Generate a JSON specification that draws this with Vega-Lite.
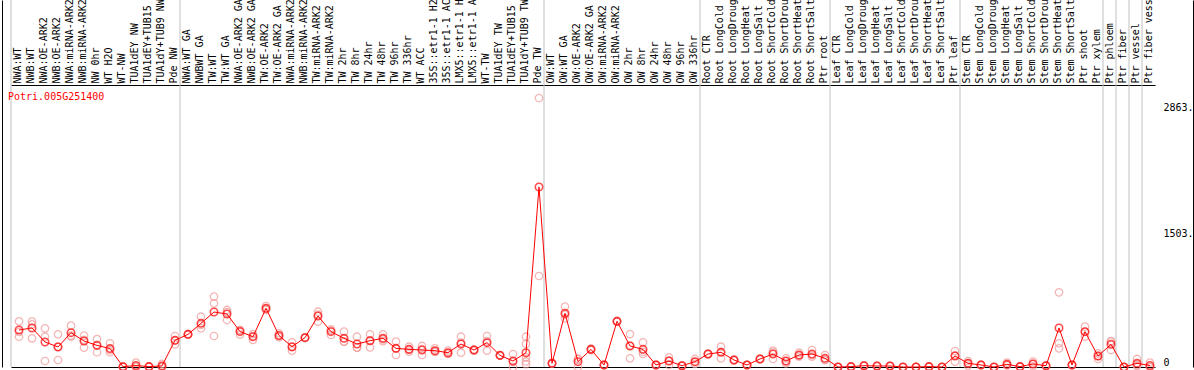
{
  "$schema": "https://vega.github.io/schema/vega-lite/v6.json",
  "width": 1191,
  "height": 367,
  "autosize": {"type": "none"},
  "padding": {"left": 2, "top": 0, "right": 1, "bottom": 3},
  "background": "white",
  "config": {"view": {"stroke": null}, "font": "DejaVu Sans Mono"},
  "datasets": {
    "means": [
      {"sample": "NWA:WT", "value": 401, "start": true},
      {"sample": "NWB:WT", "value": 423, "start": false},
      {"sample": "NWA:OE-ARK2", "value": 271, "start": false},
      {"sample": "NWB:OE-ARK2", "value": 217, "start": false},
      {"sample": "NWA:miRNA-ARK2", "value": 372, "start": false},
      {"sample": "NWB:miRNA-ARK2", "value": 282, "start": false},
      {"sample": "NW 0hr", "value": 234, "start": false},
      {"sample": "WT H2O", "value": 200, "start": false},
      {"sample": "WT-NW", "value": 3, "start": false},
      {"sample": "TUA1dEY NW", "value": 16, "start": false},
      {"sample": "TUA1dEY+TUB15 NW", "value": 4, "start": false},
      {"sample": "TUA1dY+TUB9 NW", "value": 12, "start": false},
      {"sample": "Pde NW", "value": 289, "start": false},
      {"sample": "NWA:WT GA", "value": 354, "start": true},
      {"sample": "NWBWT GA", "value": 473, "start": false},
      {"sample": "TW:WT", "value": 596, "start": false},
      {"sample": "TW:WT GA", "value": 574, "start": false},
      {"sample": "NWA:OE-ARK2 GA", "value": 384, "start": false},
      {"sample": "NWB:OE-ARK2 GA", "value": 328, "start": false},
      {"sample": "TW:OE-ARK2", "value": 636, "start": false},
      {"sample": "TW:OE-ARK2 GA", "value": 341, "start": false},
      {"sample": "NWA:miRNA-ARK2 GA", "value": 220, "start": false},
      {"sample": "NWB:miRNA-ARK2 GA", "value": 318, "start": false},
      {"sample": "TW:miRNA-ARK2", "value": 553, "start": false},
      {"sample": "TW:miRNA-ARK2 GA", "value": 383, "start": false},
      {"sample": "TW 2hr", "value": 311, "start": false},
      {"sample": "TW 8hr", "value": 249, "start": false},
      {"sample": "TW 24hr", "value": 285, "start": false},
      {"sample": "TW 48hr", "value": 311, "start": false},
      {"sample": "TW 96hr", "value": 202, "start": false},
      {"sample": "TW 336hr", "value": 191, "start": false},
      {"sample": "WT ACC", "value": 184, "start": false},
      {"sample": "35S::etr1-1 H2O", "value": 177, "start": false},
      {"sample": "35S::etr1-1 ACC", "value": 155, "start": false},
      {"sample": "LMX5::etr1-1 H2O", "value": 249, "start": false},
      {"sample": "LMX5::etr1-1 ACC", "value": 184, "start": false},
      {"sample": "WT-TW", "value": 264, "start": false},
      {"sample": "TUA1dEY TW", "value": 126, "start": false},
      {"sample": "TUA1dEY+TUB15 TW", "value": 65, "start": false},
      {"sample": "TUA1dY+TUB9 TW", "value": 155, "start": false},
      {"sample": "Pde TW", "value": 1951, "start": false},
      {"sample": "OW:WT", "value": 40, "start": true},
      {"sample": "OW:WT GA", "value": 582, "start": false},
      {"sample": "OW:OE-ARK2", "value": 58, "start": false},
      {"sample": "OW:OE-ARK2 GA", "value": 191, "start": false},
      {"sample": "OW:miRNA-ARK2", "value": 22, "start": false},
      {"sample": "OW:miRNA-ARK2 GA", "value": 495, "start": false},
      {"sample": "OW 2hr", "value": 228, "start": false},
      {"sample": "OW 8hr", "value": 191, "start": false},
      {"sample": "OW 24hr", "value": 22, "start": false},
      {"sample": "OW 48hr", "value": 65, "start": false},
      {"sample": "OW 96hr", "value": 14, "start": false},
      {"sample": "OW 336hr", "value": 58, "start": false},
      {"sample": "Root CTR", "value": 141, "start": true},
      {"sample": "Root LongCold", "value": 159, "start": false},
      {"sample": "Root LongDrought", "value": 76, "start": false},
      {"sample": "Root LongHeat", "value": 22, "start": false},
      {"sample": "Root LongSalt", "value": 87, "start": false},
      {"sample": "Root ShortCold", "value": 141, "start": false},
      {"sample": "Root ShortDrought", "value": 65, "start": false},
      {"sample": "Root ShortHeat", "value": 130, "start": false},
      {"sample": "Root ShortSalt", "value": 141, "start": false},
      {"sample": "Ptr root", "value": 94, "start": false},
      {"sample": "Leaf CTR", "value": 0, "start": true},
      {"sample": "Leaf LongCold", "value": 4, "start": false},
      {"sample": "Leaf LongDrought", "value": 14, "start": false},
      {"sample": "Leaf LongHeat", "value": 11, "start": false},
      {"sample": "Leaf LongSalt", "value": 11, "start": false},
      {"sample": "Leaf ShortCold", "value": 0, "start": false},
      {"sample": "Leaf ShortDrought", "value": 0, "start": false},
      {"sample": "Leaf ShortHeat", "value": 4, "start": false},
      {"sample": "Leaf ShortSalt", "value": 0, "start": false},
      {"sample": "Ptr leaf", "value": 119, "start": false},
      {"sample": "Stem CTR", "value": 40, "start": true},
      {"sample": "Stem LongCold", "value": 22, "start": false},
      {"sample": "Stem LongDrought", "value": 0, "start": false},
      {"sample": "Stem LongHeat", "value": 29, "start": false},
      {"sample": "Stem LongSalt", "value": 4, "start": false},
      {"sample": "Stem ShortCold", "value": 33, "start": false},
      {"sample": "Stem ShortDrought", "value": 14, "start": false},
      {"sample": "Stem ShortHeat", "value": 423, "start": false},
      {"sample": "Stem ShortSalt", "value": 22, "start": false},
      {"sample": "Ptr shoot", "value": 383, "start": false},
      {"sample": "Ptr xylem", "value": 118, "start": false},
      {"sample": "Ptr phloem", "value": 246, "start": true},
      {"sample": "Ptr fiber", "value": 0, "start": true},
      {"sample": "Ptr vessel", "value": 40, "start": true},
      {"sample": "Ptr fiber vessel", "value": 16, "start": true}
    ],
    "reps": [
      {"sample": "NWA:WT", "value": 495}, {"sample": "NWA:WT", "value": 380}, {"sample": "NWA:WT", "value": 328},
      {"sample": "NWB:WT", "value": 495}, {"sample": "NWB:WT", "value": 462}, {"sample": "NWB:WT", "value": 311},
      {"sample": "NWA:OE-ARK2", "value": 419}, {"sample": "NWA:OE-ARK2", "value": 328}, {"sample": "NWA:OE-ARK2", "value": 65},
      {"sample": "NWB:OE-ARK2", "value": 354}, {"sample": "NWB:OE-ARK2", "value": 220}, {"sample": "NWB:OE-ARK2", "value": 76},
      {"sample": "NWA:miRNA-ARK2", "value": 448}, {"sample": "NWA:miRNA-ARK2", "value": 340}, {"sample": "NWA:miRNA-ARK2", "value": 330},
      {"sample": "NWB:miRNA-ARK2", "value": 340}, {"sample": "NWB:miRNA-ARK2", "value": 295}, {"sample": "NWB:miRNA-ARK2", "value": 210},
      {"sample": "NW 0hr", "value": 303}, {"sample": "NW 0hr", "value": 240}, {"sample": "NW 0hr", "value": 160},
      {"sample": "WT H2O", "value": 257}, {"sample": "WT H2O", "value": 184}, {"sample": "WT H2O", "value": 160},
      {"sample": "WT-NW", "value": 2}, {"sample": "WT-NW", "value": 3}, {"sample": "WT-NW", "value": 5},
      {"sample": "TUA1dEY NW", "value": 47}, {"sample": "TUA1dEY NW", "value": 0}, {"sample": "TUA1dEY NW", "value": 1},
      {"sample": "TUA1dEY+TUB15 NW", "value": 5}, {"sample": "TUA1dEY+TUB15 NW", "value": 3}, {"sample": "TUA1dEY+TUB15 NW", "value": 4},
      {"sample": "TUA1dY+TUB9 NW", "value": 33}, {"sample": "TUA1dY+TUB9 NW", "value": 2}, {"sample": "TUA1dY+TUB9 NW", "value": 1},
      {"sample": "Pde NW", "value": 336}, {"sample": "Pde NW", "value": 289}, {"sample": "Pde NW", "value": 245},
      {"sample": "NWA:WT GA", "value": 350}, {"sample": "NWA:WT GA", "value": 356}, {"sample": "NWA:WT GA", "value": 356},
      {"sample": "NWBWT GA", "value": 545}, {"sample": "NWBWT GA", "value": 455}, {"sample": "NWBWT GA", "value": 419},
      {"sample": "TW:WT", "value": 762}, {"sample": "TW:WT", "value": 690}, {"sample": "TW:WT", "value": 336},
      {"sample": "TW:WT GA", "value": 618}, {"sample": "TW:WT GA", "value": 595}, {"sample": "TW:WT GA", "value": 509},
      {"sample": "NWA:OE-ARK2 GA", "value": 401}, {"sample": "NWA:OE-ARK2 GA", "value": 400}, {"sample": "NWA:OE-ARK2 GA", "value": 350},
      {"sample": "NWB:OE-ARK2 GA", "value": 357}, {"sample": "NWB:OE-ARK2 GA", "value": 335}, {"sample": "NWB:OE-ARK2 GA", "value": 293},
      {"sample": "TW:OE-ARK2", "value": 661}, {"sample": "TW:OE-ARK2", "value": 630}, {"sample": "TW:OE-ARK2", "value": 618},
      {"sample": "TW:OE-ARK2 GA", "value": 365}, {"sample": "TW:OE-ARK2 GA", "value": 335}, {"sample": "TW:OE-ARK2 GA", "value": 322},
      {"sample": "NWA:miRNA-ARK2 GA", "value": 267}, {"sample": "NWA:miRNA-ARK2 GA", "value": 215}, {"sample": "NWA:miRNA-ARK2 GA", "value": 177},
      {"sample": "NWB:miRNA-ARK2 GA", "value": 320}, {"sample": "NWB:miRNA-ARK2 GA", "value": 318}, {"sample": "NWB:miRNA-ARK2 GA", "value": 316},
      {"sample": "TW:miRNA-ARK2", "value": 599}, {"sample": "TW:miRNA-ARK2", "value": 568}, {"sample": "TW:miRNA-ARK2", "value": 491},
      {"sample": "TW:miRNA-ARK2 GA", "value": 408}, {"sample": "TW:miRNA-ARK2 GA", "value": 395}, {"sample": "TW:miRNA-ARK2 GA", "value": 347},
      {"sample": "TW 2hr", "value": 383}, {"sample": "TW 2hr", "value": 275}, {"sample": "TW 2hr", "value": 275},
      {"sample": "TW 8hr", "value": 328}, {"sample": "TW 8hr", "value": 210}, {"sample": "TW 8hr", "value": 210},
      {"sample": "TW 24hr", "value": 354}, {"sample": "TW 24hr", "value": 288}, {"sample": "TW 24hr", "value": 213},
      {"sample": "TW 48hr", "value": 354}, {"sample": "TW 48hr", "value": 300}, {"sample": "TW 48hr", "value": 280},
      {"sample": "TW 96hr", "value": 275}, {"sample": "TW 96hr", "value": 200}, {"sample": "TW 96hr", "value": 130},
      {"sample": "TW 336hr", "value": 220}, {"sample": "TW 336hr", "value": 188}, {"sample": "TW 336hr", "value": 166},
      {"sample": "WT ACC", "value": 228}, {"sample": "WT ACC", "value": 195}, {"sample": "WT ACC", "value": 130},
      {"sample": "35S::etr1-1 H2O", "value": 202}, {"sample": "35S::etr1-1 H2O", "value": 163}, {"sample": "35S::etr1-1 H2O", "value": 166},
      {"sample": "35S::etr1-1 ACC", "value": 177}, {"sample": "35S::etr1-1 ACC", "value": 148}, {"sample": "35S::etr1-1 ACC", "value": 141},
      {"sample": "LMX5::etr1-1 H2O", "value": 328}, {"sample": "LMX5::etr1-1 H2O", "value": 265}, {"sample": "LMX5::etr1-1 H2O", "value": 155},
      {"sample": "LMX5::etr1-1 ACC", "value": 190}, {"sample": "LMX5::etr1-1 ACC", "value": 184}, {"sample": "LMX5::etr1-1 ACC", "value": 178},
      {"sample": "WT-TW", "value": 336}, {"sample": "WT-TW", "value": 280}, {"sample": "WT-TW", "value": 177},
      {"sample": "TUA1dEY TW", "value": 130}, {"sample": "TUA1dEY TW", "value": 126}, {"sample": "TUA1dEY TW", "value": 122},
      {"sample": "TUA1dEY+TUB15 TW", "value": 141}, {"sample": "TUA1dEY+TUB15 TW", "value": 54}, {"sample": "TUA1dEY+TUB15 TW", "value": 0},
      {"sample": "TUA1dY+TUB9 TW", "value": 328}, {"sample": "TUA1dY+TUB9 TW", "value": 250}, {"sample": "TUA1dY+TUB9 TW", "value": 105}, {"sample": "TUA1dY+TUB9 TW", "value": 60}, {"sample": "TUA1dY+TUB9 TW", "value": 30},
      {"sample": "Pde TW", "value": 2915}, {"sample": "Pde TW", "value": 986},
      {"sample": "OW:WT", "value": 40}, {"sample": "OW:WT", "value": 42}, {"sample": "OW:WT", "value": 38},
      {"sample": "OW:WT GA", "value": 654}, {"sample": "OW:WT GA", "value": 565}, {"sample": "OW:WT GA", "value": 527},
      {"sample": "OW:OE-ARK2", "value": 87}, {"sample": "OW:OE-ARK2", "value": 87}, {"sample": "OW:OE-ARK2", "value": 0},
      {"sample": "OW:OE-ARK2 GA", "value": 200}, {"sample": "OW:OE-ARK2 GA", "value": 191}, {"sample": "OW:OE-ARK2 GA", "value": 182},
      {"sample": "OW:miRNA-ARK2", "value": 22}, {"sample": "OW:miRNA-ARK2", "value": 25}, {"sample": "OW:miRNA-ARK2", "value": 19},
      {"sample": "OW:miRNA-ARK2 GA", "value": 500}, {"sample": "OW:miRNA-ARK2 GA", "value": 495}, {"sample": "OW:miRNA-ARK2 GA", "value": 490},
      {"sample": "OW 2hr", "value": 357}, {"sample": "OW 2hr", "value": 233}, {"sample": "OW 2hr", "value": 94},
      {"sample": "OW 8hr", "value": 267}, {"sample": "OW 8hr", "value": 165}, {"sample": "OW 8hr", "value": 141},
      {"sample": "OW 24hr", "value": 22}, {"sample": "OW 24hr", "value": 25}, {"sample": "OW 24hr", "value": 19},
      {"sample": "OW 48hr", "value": 105}, {"sample": "OW 48hr", "value": 68}, {"sample": "OW 48hr", "value": 22},
      {"sample": "OW 96hr", "value": 14}, {"sample": "OW 96hr", "value": 16}, {"sample": "OW 96hr", "value": 12},
      {"sample": "OW 336hr", "value": 87}, {"sample": "OW 336hr", "value": 54}, {"sample": "OW 336hr", "value": 33},
      {"sample": "Root CTR", "value": 145}, {"sample": "Root CTR", "value": 141}, {"sample": "Root CTR", "value": 137},
      {"sample": "Root LongCold", "value": 220}, {"sample": "Root LongCold", "value": 163}, {"sample": "Root LongCold", "value": 94},
      {"sample": "Root LongDrought", "value": 80}, {"sample": "Root LongDrought", "value": 76}, {"sample": "Root LongDrought", "value": 72},
      {"sample": "Root LongHeat", "value": 22}, {"sample": "Root LongHeat", "value": 24}, {"sample": "Root LongHeat", "value": 20},
      {"sample": "Root LongSalt", "value": 90}, {"sample": "Root LongSalt", "value": 87}, {"sample": "Root LongSalt", "value": 84},
      {"sample": "Root ShortCold", "value": 177}, {"sample": "Root ShortCold", "value": 159}, {"sample": "Root ShortCold", "value": 87},
      {"sample": "Root ShortDrought", "value": 94}, {"sample": "Root ShortDrought", "value": 61}, {"sample": "Root ShortDrought", "value": 40},
      {"sample": "Root ShortHeat", "value": 155}, {"sample": "Root ShortHeat", "value": 123}, {"sample": "Root ShortHeat", "value": 112},
      {"sample": "Root ShortSalt", "value": 184}, {"sample": "Root ShortSalt", "value": 128}, {"sample": "Root ShortSalt", "value": 112},
      {"sample": "Ptr root", "value": 130}, {"sample": "Ptr root", "value": 76}, {"sample": "Ptr root", "value": 76},
      {"sample": "Leaf CTR", "value": 0}, {"sample": "Leaf CTR", "value": 0}, {"sample": "Leaf CTR", "value": 0},
      {"sample": "Leaf LongCold", "value": 4}, {"sample": "Leaf LongCold", "value": 5}, {"sample": "Leaf LongCold", "value": 3},
      {"sample": "Leaf LongDrought", "value": 14}, {"sample": "Leaf LongDrought", "value": 16}, {"sample": "Leaf LongDrought", "value": 12},
      {"sample": "Leaf LongHeat", "value": 11}, {"sample": "Leaf LongHeat", "value": 12}, {"sample": "Leaf LongHeat", "value": 10},
      {"sample": "Leaf LongSalt", "value": 11}, {"sample": "Leaf LongSalt", "value": 12}, {"sample": "Leaf LongSalt", "value": 10},
      {"sample": "Leaf ShortCold", "value": 0}, {"sample": "Leaf ShortCold", "value": 0}, {"sample": "Leaf ShortCold", "value": 0},
      {"sample": "Leaf ShortDrought", "value": 0}, {"sample": "Leaf ShortDrought", "value": 0}, {"sample": "Leaf ShortDrought", "value": 1},
      {"sample": "Leaf ShortHeat", "value": 4}, {"sample": "Leaf ShortHeat", "value": 5}, {"sample": "Leaf ShortHeat", "value": 3},
      {"sample": "Leaf ShortSalt", "value": 0}, {"sample": "Leaf ShortSalt", "value": 0}, {"sample": "Leaf ShortSalt", "value": 0},
      {"sample": "Ptr leaf", "value": 173}, {"sample": "Ptr leaf", "value": 126}, {"sample": "Ptr leaf", "value": 58},
      {"sample": "Stem CTR", "value": 65}, {"sample": "Stem CTR", "value": 40}, {"sample": "Stem CTR", "value": 15},
      {"sample": "Stem LongCold", "value": 22}, {"sample": "Stem LongCold", "value": 25}, {"sample": "Stem LongCold", "value": 19},
      {"sample": "Stem LongDrought", "value": 0}, {"sample": "Stem LongDrought", "value": 0}, {"sample": "Stem LongDrought", "value": 0},
      {"sample": "Stem LongHeat", "value": 47}, {"sample": "Stem LongHeat", "value": 22}, {"sample": "Stem LongHeat", "value": 18},
      {"sample": "Stem LongSalt", "value": 4}, {"sample": "Stem LongSalt", "value": 5}, {"sample": "Stem LongSalt", "value": 3},
      {"sample": "Stem ShortCold", "value": 58}, {"sample": "Stem ShortCold", "value": 33}, {"sample": "Stem ShortCold", "value": 8},
      {"sample": "Stem ShortDrought", "value": 14}, {"sample": "Stem ShortDrought", "value": 16}, {"sample": "Stem ShortDrought", "value": 12},
      {"sample": "Stem ShortHeat", "value": 809}, {"sample": "Stem ShortHeat", "value": 257}, {"sample": "Stem ShortHeat", "value": 202},
      {"sample": "Stem ShortSalt", "value": 22}, {"sample": "Stem ShortSalt", "value": 25}, {"sample": "Stem ShortSalt", "value": 19},
      {"sample": "Ptr shoot", "value": 437}, {"sample": "Ptr shoot", "value": 383}, {"sample": "Ptr shoot", "value": 330},
      {"sample": "Ptr xylem", "value": 148}, {"sample": "Ptr xylem", "value": 120}, {"sample": "Ptr xylem", "value": 87},
      {"sample": "Ptr phloem", "value": 275}, {"sample": "Ptr phloem", "value": 280}, {"sample": "Ptr phloem", "value": 184},
      {"sample": "Ptr fiber", "value": 0}, {"sample": "Ptr fiber", "value": 0}, {"sample": "Ptr fiber", "value": 0},
      {"sample": "Ptr vessel", "value": 87}, {"sample": "Ptr vessel", "value": 22}, {"sample": "Ptr vessel", "value": 11},
      {"sample": "Ptr fiber vessel", "value": 47}, {"sample": "Ptr fiber vessel", "value": 0}, {"sample": "Ptr fiber vessel", "value": 0}
    ],
    "gene": [{"name": "Potri.005G251400"}]
  },
  "layer": [
    {
      "data": {"name": "means"},
      "transform": [{"filter": "datum.start"}],
      "mark": {"type": "rule", "color": "#c0c0c0", "strokeWidth": 1},
      "encoding": {
        "x": {
          "field": "sample", "type": "nominal", "bandPosition": 0,
          "scale": {
            "type": "band",
            "domain": ["NWA:WT","NWB:WT","NWA:OE-ARK2","NWB:OE-ARK2","NWA:miRNA-ARK2","NWB:miRNA-ARK2","NW 0hr","WT H2O","WT-NW","TUA1dEY NW","TUA1dEY+TUB15 NW","TUA1dY+TUB9 NW","Pde NW","NWA:WT GA","NWBWT GA","TW:WT","TW:WT GA","NWA:OE-ARK2 GA","NWB:OE-ARK2 GA","TW:OE-ARK2","TW:OE-ARK2 GA","NWA:miRNA-ARK2 GA","NWB:miRNA-ARK2 GA","TW:miRNA-ARK2","TW:miRNA-ARK2 GA","TW 2hr","TW 8hr","TW 24hr","TW 48hr","TW 96hr","TW 336hr","WT ACC","35S::etr1-1 H2O","35S::etr1-1 ACC","LMX5::etr1-1 H2O","LMX5::etr1-1 ACC","WT-TW","TUA1dEY TW","TUA1dEY+TUB15 TW","TUA1dY+TUB9 TW","Pde TW","OW:WT","OW:WT GA","OW:OE-ARK2","OW:OE-ARK2 GA","OW:miRNA-ARK2","OW:miRNA-ARK2 GA","OW 2hr","OW 8hr","OW 24hr","OW 48hr","OW 96hr","OW 336hr","Root CTR","Root LongCold","Root LongDrought","Root LongHeat","Root LongSalt","Root ShortCold","Root ShortDrought","Root ShortHeat","Root ShortSalt","Ptr root","Leaf CTR","Leaf LongCold","Leaf LongDrought","Leaf LongHeat","Leaf LongSalt","Leaf ShortCold","Leaf ShortDrought","Leaf ShortHeat","Leaf ShortSalt","Ptr leaf","Stem CTR","Stem LongCold","Stem LongDrought","Stem LongHeat","Stem LongSalt","Stem ShortCold","Stem ShortDrought","Stem ShortHeat","Stem ShortSalt","Ptr shoot","Ptr xylem","Ptr phloem","Ptr fiber","Ptr vessel","Ptr fiber vessel"],
            "range": [9, 1153],
            "paddingInner": 0,
            "paddingOuter": 0
          },
          "axis": {
            "orient": "top", "offset": -85, "title": null,
            "labelAngle": 270, "labelAlign": "left", "labelBaseline": "middle",
            "labelPadding": 2, "ticks": false, "tickSize": 0,
            "labelFont": "DejaVu Sans Mono", "labelFontSize": 10, "labelColor": "#000000",
            "labelOverlap": false, "labelLimit": 300, "labelBound": false,
            "domain": true, "domainColor": "#000000", "domainWidth": 1, "grid": false
          }
        }
      }
    },
    {
      "mark": {"type": "rule", "color": "#c0c0c0", "strokeWidth": 1},
      "encoding": {
        "x": {"datum": "Ptr fiber vessel", "type": "nominal", "bandPosition": 1, "axis": null}
      }
    },
    {
      "mark": {"type": "rule", "color": "#c0c0c0", "strokeWidth": 1},
      "encoding": {
        "y": {
          "datum": 1503, "type": "quantitative",
          "scale": {"domain": [0, 3977], "nice": false, "zero": true},
          "axis": {
            "orient": "right", "title": null, "values": [0, 1503, 2863],
            "labelExpr": "datum.value == 0 ? '0' : datum.value + '.'",
            "ticks": false, "tickSize": 0, "labelPadding": -30, "labelAlign": "left",
            "labelBaseline": {"condition": {"test": "datum.value == 0", "value": "bottom"}, "value": "top"},
            "labelFont": "DejaVu Sans Mono", "labelFontSize": 10, "labelColor": "#000000",
            "labelOverlap": false, "labelFlush": false, "labelBound": false,
            "domain": true, "domainColor": "#000000", "grid": false
          }
        }
      }
    },
    {
      "data": {"name": "reps"},
      "mark": {"type": "point", "shape": "circle", "filled": false, "stroke": "#f09a9a", "strokeWidth": 1.3, "size": 55, "xOffset": 1.5},
      "encoding": {
        "x": {"field": "sample", "type": "nominal", "axis": null},
        "y": {"field": "value", "type": "quantitative", "axis": null}
      }
    },
    {
      "data": {"name": "means"},
      "mark": {"type": "line", "color": "#ff0000", "strokeWidth": 1, "xOffset": 1.5},
      "encoding": {
        "x": {"field": "sample", "type": "nominal", "sort": null,
          "axis": {"orient": "bottom", "title": null, "labels": false, "ticks": false, "domain": true, "domainColor": "#000000", "grid": false}},
        "y": {"field": "value", "type": "quantitative",
          "axis": {"orient": "left", "title": null, "labels": false, "ticks": false, "domain": true, "domainColor": "#000000", "grid": false}}
      }
    },
    {
      "data": {"name": "means"},
      "mark": {"type": "point", "shape": "circle", "filled": false, "stroke": "#ff0000", "strokeWidth": 1.6, "size": 55, "xOffset": 1.5},
      "encoding": {
        "x": {"field": "sample", "type": "nominal", "axis": null},
        "y": {"field": "value", "type": "quantitative", "axis": null}
      }
    },
    {
      "data": {"name": "gene"},
      "mark": {"type": "text", "font": "DejaVu Sans Mono", "fontSize": 10, "color": "#ff0000", "align": "left", "baseline": "middle", "dx": -3},
      "encoding": {
        "x": {"datum": "NWA:WT", "type": "nominal", "bandPosition": 0, "axis": null},
        "y": {"datum": 2926, "type": "quantitative", "axis": null},
        "text": {"field": "name", "type": "nominal"}
      }
    }
  ],
  "resolve": {"axis": {"x": "independent", "y": "independent"}}
}
